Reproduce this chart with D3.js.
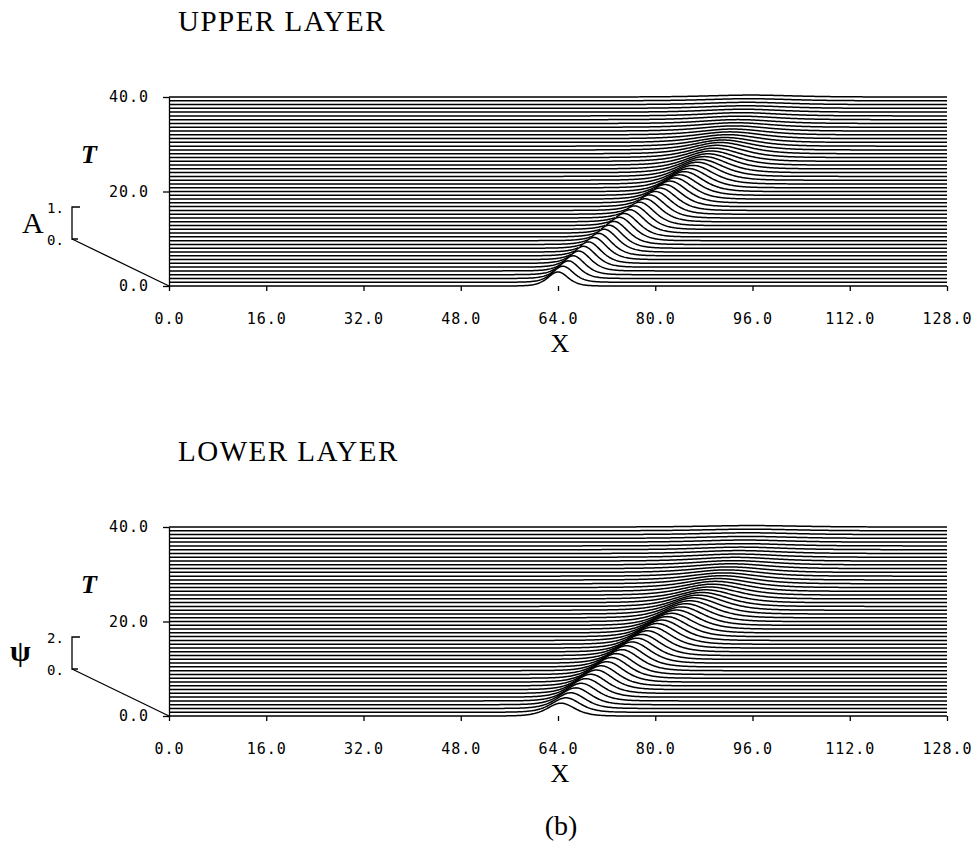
<!DOCTYPE html>
<html>
<head>
<meta charset="utf-8">
<script src="https://cdn.jsdelivr.net/npm/d3@7"></script>
<style>
  body { margin: 0; background: #fff; }
  svg text { fill: #000; }
  .tick text { font-family: "DejaVu Sans Mono", monospace; font-size: 15px; letter-spacing: 1px; font-variant-numeric: slashed-zero; }
  .tick line, .domain { stroke: #000; stroke-width: 1.3; }
</style>
</head>
<body>
<script>
// time levels of the stacked traces (T = 0 .. 40, step 0.8)
let times = d3.range(51).map((k) => +(k * 0.8).toFixed(1));
let xTicks = [0, 16, 32, 48, 64, 80, 96, 112, 128];
let tTicks = [0, 20, 40];

// upper layer pulse, one value per trace
let upperCenter = [64.0,64.8,65.7,66.5,67.4,68.2,69.0,69.9,70.7,71.6,72.4,73.2,74.1,74.9,75.8,76.6,77.4,78.3,79.1,80.0,80.8,81.6,82.4,83.2,84.0,84.8,85.5,86.2,86.9,87.5,88.1,88.7,89.2,89.7,90.2,90.7,91.1,91.5,91.9,92.3,92.7,93.0,93.3,93.6,93.9,94.2,94.5,94.8,95.1,95.4,95.7];
let upperAmp = [0.44,0.50,0.55,0.59,0.62,0.65,0.67,0.69,0.70,0.71,0.72,0.72,0.73,0.73,0.73,0.73,0.73,0.72,0.72,0.71,0.70,0.69,0.68,0.66,0.64,0.62,0.60,0.58,0.56,0.53,0.50,0.47,0.44,0.41,0.38,0.35,0.31,0.27,0.24,0.21,0.18,0.16,0.14,0.12,0.11,0.10,0.09,0.08,0.07,0.065,0.06];
let upperWidth = [2.2,2.3,2.4,2.5,2.6,2.7,2.75,2.8,2.85,2.9,2.95,3.0,3.05,3.1,3.15,3.2,3.25,3.3,3.35,3.4,3.5,3.6,3.7,3.8,3.9,4.0,4.2,4.4,4.6,4.8,5.0,5.2,5.4,5.6,5.8,6.0,6.2,6.4,6.6,6.8,7.0,7.2,7.4,7.6,7.8,8.0,8.2,8.4,8.6,8.8,9.0];

// lower layer pulse
let lowerCenter = [64.5,65.3,66.1,66.9,67.8,68.6,69.4,70.3,71.1,72.0,72.8,73.6,74.5,75.3,76.2,77.0,77.8,78.7,79.5,80.3,81.1,81.9,82.7,83.5,84.3,85.0,85.7,86.4,87.1,87.7,88.3,88.9,89.4,89.9,90.4,90.9,91.3,91.7,92.1,92.5,92.9,93.2,93.5,93.8,94.1,94.4,94.7,95.0,95.3,95.6,95.9];
let lowerAmp = [0.80,0.90,0.98,1.05,1.10,1.15,1.19,1.22,1.25,1.27,1.29,1.30,1.31,1.32,1.32,1.32,1.32,1.31,1.30,1.29,1.27,1.25,1.22,1.19,1.15,1.11,1.06,1.01,0.94,0.87,0.80,0.74,0.68,0.62,0.56,0.50,0.44,0.39,0.34,0.30,0.26,0.23,0.20,0.18,0.16,0.14,0.13,0.12,0.11,0.10,0.09];
let lowerWidth = [3.0,3.1,3.2,3.3,3.4,3.5,3.55,3.6,3.65,3.7,3.75,3.8,3.85,3.9,3.95,4.0,4.05,4.1,4.2,4.3,4.4,4.5,4.6,4.7,4.8,5.0,5.2,5.4,5.6,5.8,6.0,6.2,6.4,6.6,6.8,7.0,7.2,7.4,7.6,7.8,8.0,8.2,8.4,8.6,8.8,9.0,9.2,9.4,9.6,9.8,10.0];

let panels = [
  {title: "UPPER LAYER", top: 0, center: upperCenter, amp: upperAmp, width: upperWidth,
   ampMax: 1, ampLabels: ["1.", "0."], symbol: "A"},
  {title: "LOWER LAYER", top: 430, center: lowerCenter, amp: lowerAmp, width: lowerWidth,
   ampMax: 2, ampLabels: ["2.", "0."], symbol: "\u03c8"}
];

const svg = d3.select("body")
  .append("svg")
  .attr("width", 979)
  .attr("height", 852);

let xscale = d3.scaleLinear().domain([0, 128]).range([169, 947]);
let nSamples = 779;
let xs = d3.range(nSamples).map((i) => i * 128 / (nSamples - 1));

function sech2(u) {
  let c = Math.cosh(u);
  return 1 / (c * c);
}

panels.forEach((p) => {
  let g = svg.append("g").attr("transform", "translate(0," + p.top + ")");

  let yscale = d3.scaleLinear().domain([0, 40]).range([286, 97]);
  let ampscale = d3.scaleLinear().domain([0, p.ampMax]).range([0, 32]);

  // traces, front (T = 0) to back, with hidden-line removal
  let env = xs.map(() => Infinity);
  let line = d3.line().x((d) => d[0]).y((d) => d[1]);
  let segs = [];
  times.forEach((t, k) => {
    let ys = xs.map((x) => yscale(t) - ampscale(p.amp[k] * sech2((x - p.center[k]) / p.width[k])));
    let cur = [];
    ys.forEach((y, i) => {
      if (y <= env[i] - 0.4) {
        cur.push([xscale(xs[i]), y]);
      } else {
        if (cur.length > 1) segs.push(cur);
        cur = [];
      }
      env[i] = Math.min(env[i], y);
    });
    if (cur.length > 1) segs.push(cur);
  });

  g.append("g")
    .selectAll("path")
    .data(segs)
    .enter()
    .append("path")
    .attr("d", line)
    .attr("fill", "none")
    .attr("stroke", "#000")
    .attr("stroke-width", 1.5);

  // axes
  g.append("g")
    .attr("transform", "translate(0,286)")
    .call(d3.axisBottom(xscale).tickValues(xTicks).tickSize(5).tickPadding(22).tickFormat(d3.format(".1f")))
    .call((a) => a.select(".domain").remove());

  g.append("g")
    .attr("transform", "translate(169,0)")
    .call(d3.axisLeft(yscale).tickValues(tTicks).tickSize(6).tickPadding(14).tickSizeOuter(0).tickFormat(d3.format(".1f")));

  g.selectAll(".tick text").attr("fill", "#000");

  // titles and labels
  g.append("text")
    .text(p.title)
    .attr("x", 178)
    .attr("y", 31)
    .style("font-family", "Liberation Serif")
    .style("font-size", "29px")
    .style("letter-spacing", "1.5px");

  g.append("text")
    .text("X")
    .attr("x", 560)
    .attr("y", 352)
    .attr("text-anchor", "middle")
    .style("font-family", "Liberation Serif")
    .style("font-size", "26px");

  g.append("text")
    .text("T")
    .attr("x", 89)
    .attr("y", 163)
    .attr("text-anchor", "middle")
    .style("font-family", "Liberation Serif")
    .style("font-style", "italic")
    .style("font-weight", "bold")
    .style("font-size", "26px");

  // amplitude scale bracket
  g.append("text")
    .text(p.symbol)
    .attr("x", p.symbol == "A" ? 22 : 10)
    .attr("y", p.symbol == "A" ? 233 : 231)
    .style("font-family", "Liberation Serif")
    .style("font-weight", p.symbol == "A" ? "normal" : "bold")
    .style("font-size", "30px");

  g.append("text")
    .text(p.ampLabels[0])
    .attr("x", 47)
    .attr("y", 213)
    .style("font-family", "DejaVu Sans Mono")
    .style("font-size", "14px")
    .style("font-variant-numeric", "slashed-zero");

  g.append("text")
    .text(p.ampLabels[1])
    .attr("x", 47)
    .attr("y", 245)
    .style("font-family", "DejaVu Sans Mono")
    .style("font-size", "14px")
    .style("font-variant-numeric", "slashed-zero");

  g.append("path")
    .attr("d", "M80,207H72V239H78")
    .attr("fill", "none")
    .attr("stroke", "#000")
    .attr("stroke-width", 1.3);

  g.append("path")
    .attr("d", "M72,239L" + xscale(0) + "," + yscale(0))
    .attr("fill", "none")
    .attr("stroke", "#000")
    .attr("stroke-width", 1.3);
});

svg.append("text")
  .text("(b)")
  .attr("x", 561)
  .attr("y", 835)
  .attr("text-anchor", "middle")
  .style("font-family", "Liberation Serif")
  .style("font-size", "28px");
</script>
</body>
</html>
